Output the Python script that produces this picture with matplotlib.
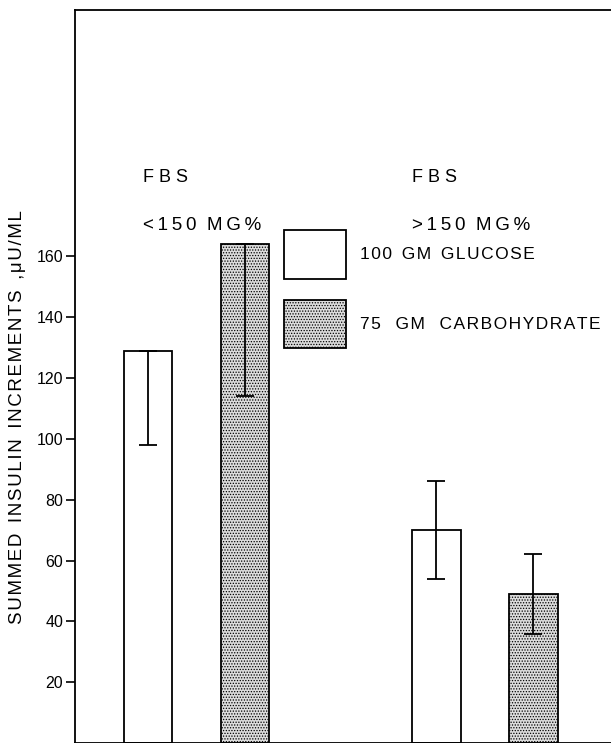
import numpy as np
import matplotlib
matplotlib.use('Agg')
import matplotlib.pyplot as plt

plt.rcParams['font.family'] = ['Liberation Sans', 'DejaVu Sans']
plt.rcParams['hatch.linewidth'] = 0.6

# data
groups = ['FBS <150 MG%', 'FBS >150 MG%']
treatments = ['100 GM GLUCOSE', '75 GM CARBOHYDRATE']
positions = [1.5, 3.5, 7.45, 9.45]
means = [129, 164, 70, 49]
err_low = [31, 50, 16, 13]
err_high = [0, 0, 16, 13]
kind = [0, 1, 0, 1]
yticks = [20, 40, 60, 80, 100, 120, 140, 160]


def spaced(s, word_gap='  ', sep='\u2009'):
    # old typewriter-like letter spacing
    words = s.split(' ')
    return word_gap.join(sep.join(w) for w in words)


fig = plt.figure(figsize=(6.11, 7.43), dpi=100)
ax = fig.add_axes([75/611, 0.0, 1 - 75/611, 1 - 10/743])

for p, m, lo, hi, k in zip(positions, means, err_low, err_high, kind):
    if k == 0:
        ax.bar(p, m, width=1.0, facecolor='white', edgecolor='black', linewidth=1.3, zorder=2)
    else:
        ax.bar(p, m, width=1.0, facecolor='#dcdcdc', edgecolor='black', linewidth=1.3,
               hatch='......', zorder=2)
    ax.errorbar(p, m, yerr=[[lo], [hi]], fmt='none', ecolor='black', elinewidth=1.3,
                capsize=6.5, capthick=1.3, zorder=3)

ax.set_xlim(0, 11.05)
ax.set_ylim(0, 241)
ax.set_yticks(yticks)
ax.set_xticks([])
ax.tick_params(axis='y', direction='out', length=6.5, width=1.2, labelsize=11.5, pad=2)
ax.spines['right'].set_visible(False)
for s in ['left', 'top', 'bottom']:
    ax.spines[s].set_linewidth(1.3)

# group headings
ax.text(1.4, 186, spaced('F B S', ' '), fontsize=13, va='center', ha='left')
ax.text(1.4, 170, spaced('<150 MG%', '  '), fontsize=13.5, va='center', ha='left')
ax.text(6.95, 186, spaced('F B S', ' '), fontsize=13, va='center', ha='left')
ax.text(6.95, 170, spaced('>150 MG%', '  '), fontsize=13.5, va='center', ha='left')

# legend drawn as boxes
ax.bar(4.95, 16.2, width=1.28, bottom=152.4, facecolor='white', edgecolor='black', linewidth=1.3)
ax.bar(4.95, 15.9, width=1.28, bottom=129.9, facecolor='#dcdcdc', edgecolor='black',
       linewidth=1.3, hatch='......')
ax.text(5.88, 160.5, spaced(treatments[0], '  ', '\u200a'), fontsize=12.5, va='center', ha='left')
ax.text(5.88, 137.5, spaced(treatments[1], '   ', '\u200a'), fontsize=12.5, va='center', ha='left')

fig.text(18/611, 1 - 417/743, spaced('SUMMED INSULIN INCREMENTS ,\u03bcU/ML', '  ', '\u200a'),
         rotation=90, fontsize=13.5, va='center', ha='center')

fig.savefig('out.png', dpi=100)
